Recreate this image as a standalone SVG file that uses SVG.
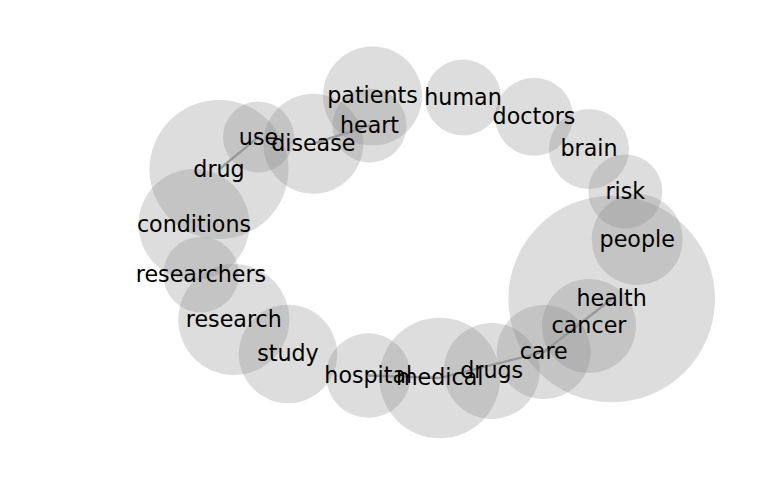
<svg xmlns="http://www.w3.org/2000/svg" width="768" height="500" viewBox="0 0 768 500">
<style>
.n circle{fill:#808080;fill-opacity:0.27}
.n text{font-family:"DejaVu Sans",sans-serif;font-size:22.2px;fill:#000;text-anchor:middle}
.e line{stroke:#999999;stroke-width:2.3;stroke-linecap:round}
</style>
<rect width="768" height="500" fill="#fff"/>
<g id="nodes-circles" class="n">
<g id="drug"><circle cx="219" cy="169.5" r="69.5"/></g>
<g id="use"><circle cx="258.5" cy="137" r="35.5"/></g>
<g id="disease"><circle cx="313.3" cy="143.7" r="50"/></g>
<g id="patients"><circle cx="372.5" cy="96" r="49.5"/></g>
<g id="heart"><circle cx="369.5" cy="125.5" r="37"/></g>
<g id="human"><circle cx="463" cy="97.5" r="38"/></g>
<g id="doctors"><circle cx="534" cy="116.7" r="39"/></g>
<g id="brain"><circle cx="589" cy="149" r="40"/></g>
<g id="risk"><circle cx="625.3" cy="191.5" r="37"/></g>
<g id="people"><circle cx="637.2" cy="239.5" r="45.5"/></g>
<g id="health"><circle cx="611.7" cy="299" r="103.3"/></g>
<g id="cancer"><circle cx="589" cy="326" r="47"/></g>
<g id="care"><circle cx="543.7" cy="352" r="47"/></g>
<g id="drugs"><circle cx="491.7" cy="371" r="48"/></g>
<g id="medical"><circle cx="439.7" cy="378" r="60.3"/></g>
<g id="hospital"><circle cx="368.3" cy="375.5" r="42.3"/></g>
<g id="study"><circle cx="288" cy="354" r="49.2"/></g>
<g id="research"><circle cx="233.8" cy="319.5" r="55.5"/></g>
<g id="researchers"><circle cx="201" cy="274.5" r="37.8"/></g>
<g id="conditions"><circle cx="194" cy="224.5" r="55.5"/></g>
</g>
<g id="connectors" class="e">
<line x1="219" y1="169.5" x2="258.5" y2="137"/>
<line x1="313.3" y1="143.7" x2="369.5" y2="125.5"/>
<line x1="368.3" y1="375.5" x2="439.7" y2="378"/>
<line x1="439.7" y1="378" x2="543.7" y2="352"/>
<line x1="543.7" y1="352" x2="611.7" y2="299"/>
</g>
<g id="labels" class="n">
<text x="219" y="177">drug</text>
<text x="258.5" y="144.5">use</text>
<text x="313.3" y="151">disease</text>
<text x="372.5" y="103.3">patients</text>
<text x="369.5" y="132.8">heart</text>
<text x="463" y="104.8">human</text>
<text x="534" y="124">doctors</text>
<text x="589" y="156.3">brain</text>
<text x="625.3" y="198.8">risk</text>
<text x="637.2" y="246.8">people</text>
<text x="611.7" y="306.3">health</text>
<text x="589" y="333.3">cancer</text>
<text x="543.7" y="359.3">care</text>
<text x="491.7" y="378.3">drugs</text>
<text x="439.7" y="385.3">medical</text>
<text x="368.3" y="382.8">hospital</text>
<text x="288" y="361.3">study</text>
<text x="233.8" y="326.8">research</text>
<text x="201" y="281.8">researchers</text>
<text x="194" y="231.8">conditions</text>
</g>
</svg>
